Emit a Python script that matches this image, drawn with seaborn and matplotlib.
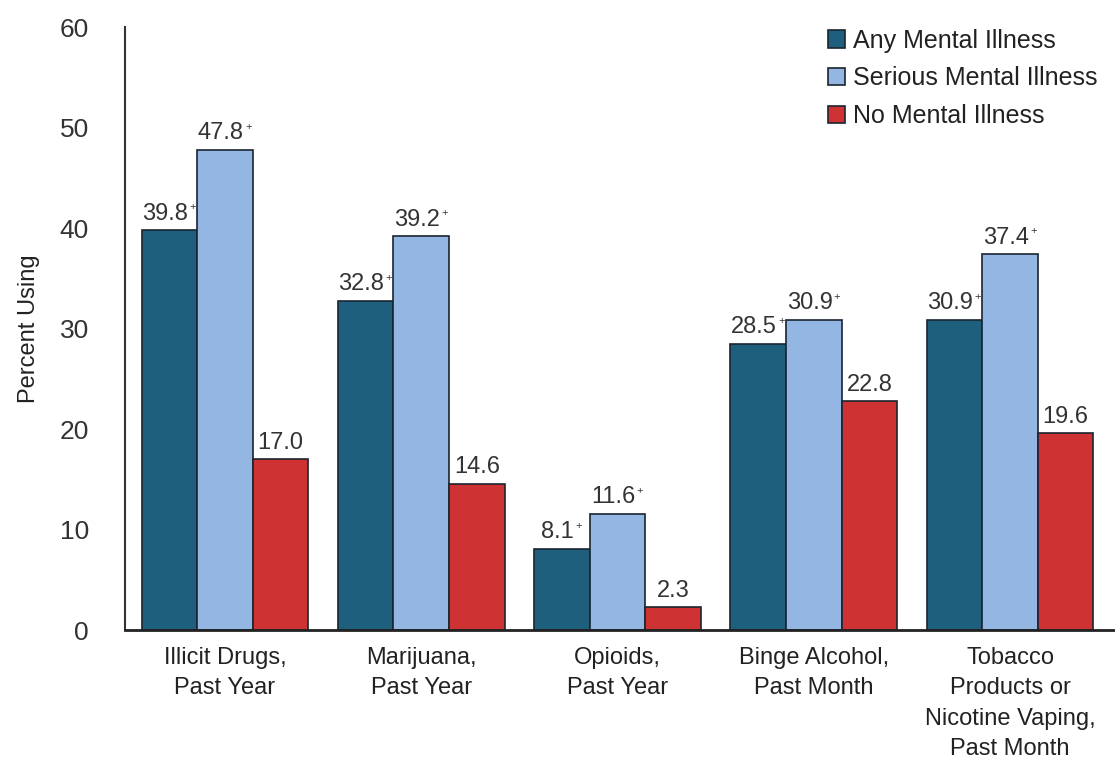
import matplotlib
matplotlib.use('Agg')
import matplotlib.pyplot as plt
import seaborn as sns
import pandas as pd

categories = ['Illicit Drugs,\nPast Year', 'Marijuana,\nPast Year', 'Opioids,\nPast Year',
              'Binge Alcohol,\nPast Month', 'Tobacco\nProducts or\nNicotine Vaping,\nPast Month']
groups = ['Any Mental Illness', 'Serious Mental Illness', 'No Mental Illness']
any_mi = [39.8, 32.8, 8.1, 28.5, 30.9]
serious_mi = [47.8, 39.2, 11.6, 30.9, 37.4]
no_mi = [17.0, 14.6, 2.3, 22.8, 19.6]
# which groups get the "+" significance mark
marked = [True, True, False]

colors = ['#1d5f7c', '#93b6e2', '#cf3232']

df = pd.DataFrame({
    'category': categories * 3,
    'group': [g for g in groups for _ in categories],
    'value': any_mi + serious_mi + no_mi,
})

sns.set_style('white')
plt.rcParams['font.family'] = ['Liberation Sans', 'DejaVu Sans']

fig = plt.figure(figsize=(11.15, 7.81), dpi=100)
ax = fig.add_axes([0.112, 0.193, 0.888, 0.772])

sns.barplot(data=df, x='category', y='value', hue='group', palette=colors,
            width=0.85, edgecolor='#1a2530', linewidth=1.2, ax=ax, saturation=1)

ax.set_ylim(0, 60)
ax.set_xlim(-0.51, 4.535)
ax.set_yticks(range(0, 61, 10))
ax.tick_params(axis='y', labelsize=19, colors='#333333', length=0, pad=26)
ax.tick_params(axis='x', labelsize=17, colors='#222222', length=0, pad=12)
for lbl in ax.get_xticklabels():
    lbl.set_linespacing(1.5)
ax.set_xlabel('')
ax.set_ylabel('Percent Using', fontsize=17, color='#222222', labelpad=14)
sns.despine(ax=ax)
ax.spines['left'].set_color('#333333')
ax.spines['bottom'].set_color('#222222')
ax.spines['bottom'].set_linewidth(2)
ax.spines['left'].set_linewidth(1.5)

for i, cont in enumerate(ax.containers):
    for bar in cont:
        h = bar.get_height()
        x = bar.get_x() + bar.get_width() / 2
        t = ax.annotate(f'{h:.1f}', (x, h), xytext=(-3 if marked[i] else 0, 4),
                        textcoords='offset points', ha='center', va='bottom',
                        fontsize=17, color='#333333')
        if marked[i]:
            ax.annotate('+', xy=(1, 0.8), xycoords=t, xytext=(1, 0),
                        textcoords='offset points', ha='left', va='center',
                        fontsize=8, color='#333333')

leg = ax.legend(loc='upper right', bbox_to_anchor=(1.005, 1.035), frameon=False,
                fontsize=18, handlelength=0.7, handleheight=0.7, handletextpad=0.3,
                labelspacing=0.55, labelcolor='#222222')

fig.savefig('out.png', dpi=100)
